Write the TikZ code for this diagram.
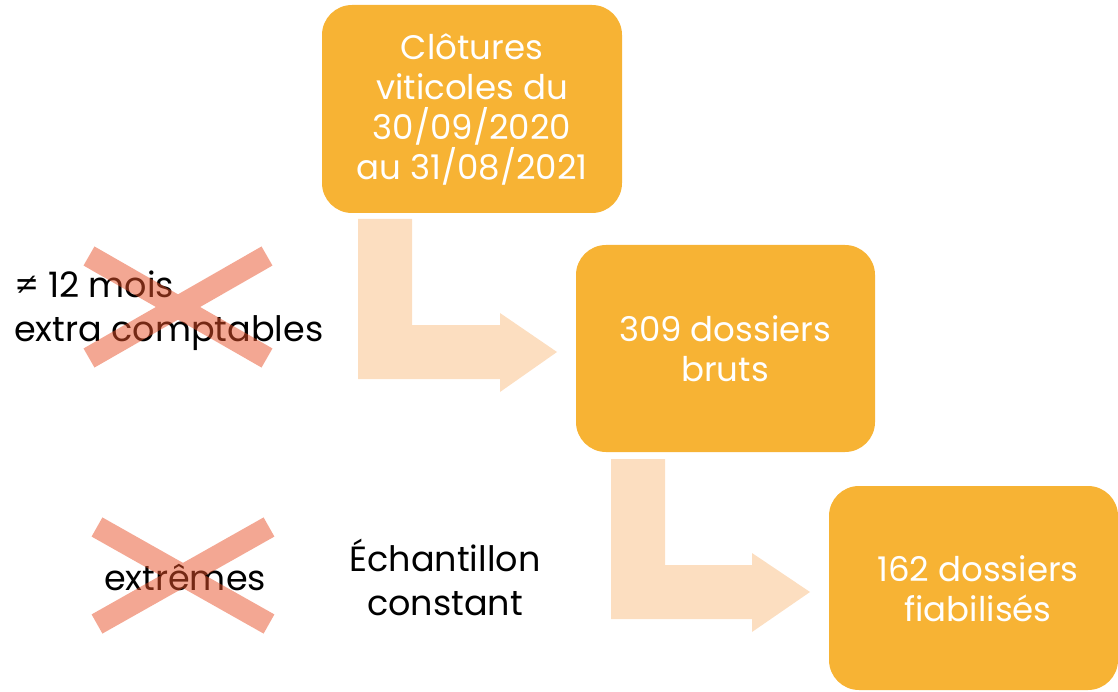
\documentclass[tikz,border=0pt]{standalone}
\usepackage{fontspec}
\setmainfont{Poppins}
\definecolor{boxc}{RGB}{247,179,52}
\definecolor{arrc}{RGB}{252,222,192}
\definecolor{crossc}{RGB}{232,80,40}
\begin{document}
\begin{tikzpicture}[x=1pt,y=-1pt,
  stagebox/.style={text=white, align=center,
    font=\fontsize{34}{40}\selectfont, inner sep=0pt},
  lbl/.style={text=black, font=\fontsize{35}{44}\selectfont, inner sep=0pt},
  bentarrow/.style={fill=arrc, draw=none},
  crossline/.style={draw=crossc, line width=22pt, line cap=butt}]
\useasboundingbox (0,0) rectangle (1118,692);
% boxes
\fill[boxc, rounded corners=30pt] (322,5) rectangle (622,213);
\node[stagebox] (b1) at (472,109) {Clôtures\\viticoles du\\30/09/2020\\au 31/08/2021};
\fill[boxc, rounded corners=30pt] (576,245) rectangle (875,452);
\node[stagebox] (b2) at (725,349) {309 dossiers\\bruts};
\fill[boxc, rounded corners=30pt] (829,486) rectangle (1118,690);
\node[stagebox] (b3) at (978,589) {162 dossiers\\fiabilisés};
% bent arrows
\fill[bentarrow] (358,219) -- (412,219) -- (412,325) -- (500,325) -- (500,313) -- (557,352)
  -- (500,392) -- (500,379) -- (358,379) -- cycle;
\fill[bentarrow] (611,459) -- (665,459) -- (665,565) -- (752,565) -- (752,553) -- (810,592)
  -- (752,632) -- (752,619) -- (611,619) -- cycle;
% labels
\node[lbl, anchor=west, align=left] (t1) at (14,311) {≠ 12 mois\\extra comptables};
\node[lbl, align=center] (t2) at (185,577) {extrêmes};
\node[lbl, align=center] (t3) at (445,577) {Échantillon\\constant};
% crosses
\coordinate (x1a) at (89,256); \coordinate (x1b) at (267,358);
\coordinate (x1c) at (89,358); \coordinate (x1d) at (267,256);
\begin{scope}[transparency group, opacity=0.5]
\draw[crossline] (x1a) -- (x1b);
\draw[crossline] (x1c) -- (x1d);
\end{scope}
\coordinate (x2a) at (97,527); \coordinate (x2b) at (269,624);
\coordinate (x2c) at (97,624); \coordinate (x2d) at (269,527);
\begin{scope}[transparency group, opacity=0.5]
\draw[crossline] (x2a) -- (x2b);
\draw[crossline] (x2c) -- (x2d);
\end{scope}
\end{tikzpicture}
\end{document}
